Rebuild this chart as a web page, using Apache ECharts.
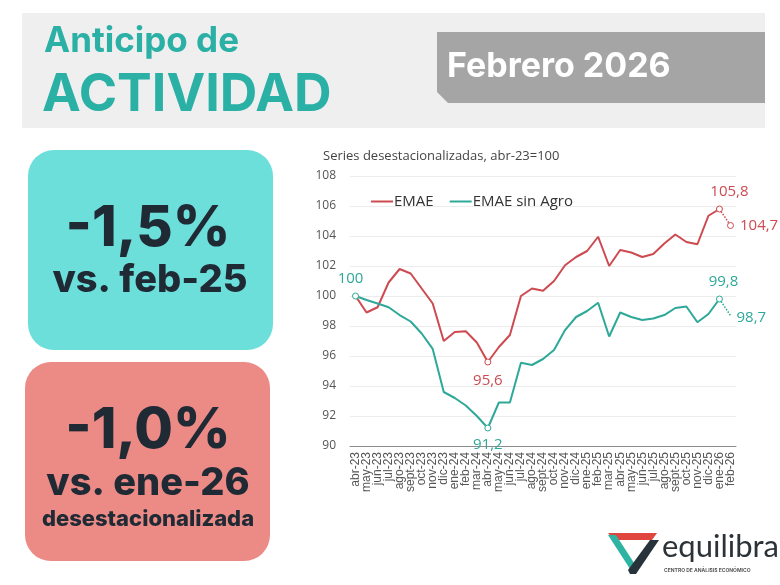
<!DOCTYPE html>
<html>
<head>
<meta charset="utf-8">
<script src="https://cdn.jsdelivr.net/npm/echarts@6/dist/echarts.min.js"></script>
<style>
  html, body { margin: 0; padding: 0; background: #fff; }
  #main { width: 780px; height: 585px; }
</style>
</head>
<body>
<div id="main"></div>
<script>
// meses
var months = ['abr-23','may-23','jun-23','jul-23','ago-23','sept-23','oct-23','nov-23','dic-23',
  'ene-24','feb-24','mar-24','abr-24','may-24','jun-24','jul-24','ago-24','sept-24','oct-24','nov-24','dic-24',
  'ene-25','feb-25','mar-25','abr-25','may-25','jun-25','jul-25','ago-25','sept-25','oct-25','nov-25','dic-25',
  'ene-26','feb-26'];
// EMAE desestacionalizado, abr-23=100
var emae = [100, 98.9, 99.25, 100.9, 101.8, 101.5, 100.5, 99.5, 97.0,
  97.6, 97.65, 96.9, 95.6, 96.6, 97.4, 100.0, 100.5, 100.35, 101.0, 102.05, 102.6,
  103.0, 103.95, 102.0, 103.07, 102.9, 102.6, 102.8, 103.5, 104.1, 103.6, 103.45, 105.35,
  105.8, 104.7];
// EMAE sin Agro
var emaeSinAgro = [100, 99.73, 99.5, 99.25, 98.73, 98.3, 97.5, 96.47, 93.6,
  93.2, 92.7, 92.0, 91.2, 92.9, 92.9, 95.55, 95.4, 95.8, 96.4, 97.73, 98.6,
  99.0, 99.55, 97.3, 98.9, 98.6, 98.4, 98.5, 98.73, 99.2, 99.3, 98.25, 98.8,
  99.8, 98.7];
var yTicks = [90, 108, 2];

var RED = '#cd4a50';
var TEAL = '#2ea898';
var DARK = '#1f2a35';
var last = months.length - 1;

function fmt(v) {
  return String(v).replace('.', ',');
}

// marca y etiqueta de un punto
function punto(v, color, pos, offset, conSimbolo) {
  return {
    value: v,
    symbol: 'circle',
    symbolSize: conSimbolo ? 6 : 0.1,
    itemStyle: { color: '#fff', borderColor: color, borderWidth: conSimbolo ? 1 : 0 },
    label: {
      show: true, position: pos, offset: offset || [0, 0], distance: 6,
      formatter: function(p) { return fmt(p.value); },
      color: color, fontSize: 15, fontFamily: 'Open Sans'
    }
  };
}

var minRed = emae.indexOf(Math.min.apply(null, emae));
var minTeal = emaeSinAgro.indexOf(Math.min.apply(null, emaeSinAgro));

var redMain = emae.slice(0, last).map(function(v, i) {
  if (i == minRed) return punto(v, RED, 'bottom', [0, 2], true);
  if (i == last - 1) return punto(v, RED, 'top', [10, 0], true);
  return v;
});
var tealMain = emaeSinAgro.slice(0, last).map(function(v, i) {
  if (i == 0) return punto(v, TEAL, 'top', [-5, 0], true);
  if (i == minTeal) return punto(v, TEAL, 'bottom', [0, 0], true);
  if (i == last - 1) return punto(v, TEAL, 'top', [4, 0], true);
  return v;
});
var redTail = emae.map(function(v, i) {
  if (i == last) return punto(v, RED, 'right', [0, 0], true);
  if (i == last - 1) return v;
  return null;
});
var tealTail = emaeSinAgro.map(function(v, i) {
  if (i == last) return punto(v, TEAL, 'right', [0, 2], false);
  if (i == last - 1) return v;
  return null;
});

var myChart = echarts.init(document.getElementById('main'));
var option = {
  backgroundColor: '#ffffff',
  animation: false,
  textStyle: { fontFamily: 'Open Sans' },
  title: {
    text: 'Series desestacionalizadas, abr-23=100',
    left: 318, top: 145,
    textStyle: { fontSize: 13, fontWeight: 'normal', color: '#444', fontFamily: 'Open Sans' }
  },
  legend: {
    data: ['EMAE', 'EMAE sin Agro'],
    left: 366, top: 189,
    icon: 'rect', itemWidth: 22, itemHeight: 2, itemGap: 16,
    textStyle: { fontSize: 15, color: '#333', fontFamily: 'Open Sans', padding: [0, 0, 0, -4] }
  },
  grid: { left: 350, right: 44, top: 176, bottom: 139 },
  xAxis: {
    type: 'category',
    data: months,
    boundaryGap: true,
    axisLine: { lineStyle: { color: '#8c8c8c' } },
    axisTick: { show: false },
    axisLabel: { interval: 0, rotate: 90, fontSize: 12, color: '#555', fontFamily: 'Liberation Sans', margin: 6 }
  },
  yAxis: {
    type: 'value',
    min: yTicks[0], max: yTicks[1], interval: yTicks[2],
    axisLine: { show: false },
    axisTick: { show: false },
    axisLabel: { fontSize: 12, color: '#555', fontFamily: 'Open Sans', margin: 14 },
    splitLine: { lineStyle: { color: '#ececec' } }
  },
  series: [
    {
      name: 'EMAE', type: 'line', data: redMain, symbol: 'none',
      lineStyle: { color: RED, width: 2 }, itemStyle: { color: RED }, z: 3
    },
    {
      name: 'EMAE sin Agro', type: 'line', data: tealMain, symbol: 'none',
      lineStyle: { color: TEAL, width: 2 }, itemStyle: { color: TEAL }, z: 4
    },
    {
      name: 'EMAE proy', type: 'line', data: redTail, symbol: 'none', connectNulls: false,
      lineStyle: { color: RED, width: 1.5, type: 'dotted' }, itemStyle: { color: RED }
    },
    {
      name: 'EMAE sin Agro proy', type: 'line', data: tealTail, symbol: 'none', connectNulls: false,
      lineStyle: { color: TEAL, width: 1.5, type: 'dotted' }, itemStyle: { color: TEAL }
    }
  ],
  graphic: [
    // encabezado
    { type: 'rect', left: 22, top: 13, z: -10, shape: { width: 743, height: 115 }, style: { fill: '#efefef' } },
    { type: 'polygon', z: -9, shape: { points: [[437, 32], [765, 32], [765, 103], [448, 103], [437, 92]] }, style: { fill: '#a5a5a5' } },
    { type: 'text', left: 44, top: 24, style: { text: 'Anticipo de', fill: '#2bb0a6', font: 'bold 35px Inter' } },
    { type: 'text', left: 42, top: 69, style: { text: 'ACTIVIDAD', fill: '#2bb0a6', font: 'bold 52px Inter' } },
    { type: 'text', left: 447, top: 50, style: { text: 'Febrero 2026', fill: '#ffffff', font: 'bold 34px Inter' } },
    // recuadros
    { type: 'rect', left: 28, top: 150, shape: { width: 245, height: 200, r: 26 }, style: { fill: '#6cdfdb' } },
    { type: 'text', x: 148, y: 229, style: { text: '-1,5%', fill: DARK, font: '800 56px Inter', align: 'center', verticalAlign: 'middle' } },
    { type: 'text', x: 150, y: 281, style: { text: 'vs. feb-25', fill: DARK, font: '800 38px Inter', align: 'center', verticalAlign: 'middle' } },
    { type: 'rect', left: 25, top: 362, shape: { width: 245, height: 199, r: 26 }, style: { fill: '#ec8a86' } },
    { type: 'text', x: 148, y: 431, style: { text: '-1,0%', fill: DARK, font: '800 56px Inter', align: 'center', verticalAlign: 'middle' } },
    { type: 'text', x: 148, y: 484, style: { text: 'vs. ene-26', fill: DARK, font: '800 38px Inter', align: 'center', verticalAlign: 'middle' } },
    { type: 'text', x: 148, y: 519, style: { text: 'desestacionalizada', fill: DARK, font: '800 22px Inter', align: 'center', verticalAlign: 'middle' } },
    // logo
    { type: 'polygon', shape: { points: [[608, 533], [657, 533], [652, 540], [614, 540]] }, style: { fill: '#e0463e' } },
    { type: 'polygon', shape: { points: [[608, 535], [616, 535], [636, 566], [632, 572]] }, style: { fill: '#2fb3a3' } },
    { type: 'polygon', shape: { points: [[650, 540], [659, 540], [636, 574], [630, 574], [628, 570]] }, style: { fill: '#27323b' } },
    { type: 'text', left: 662, top: 531, style: { text: 'equilibra', fill: '#2b3238', font: '31px Lato' } },
    { type: 'text', left: 664, top: 568, style: { text: 'CENTRO DE ANÁLISIS ECONÓMICO', fill: '#555', font: 'bold 5px Inter' } }
  ]
};
myChart.setOption(option);
</script>
</body>
</html>
